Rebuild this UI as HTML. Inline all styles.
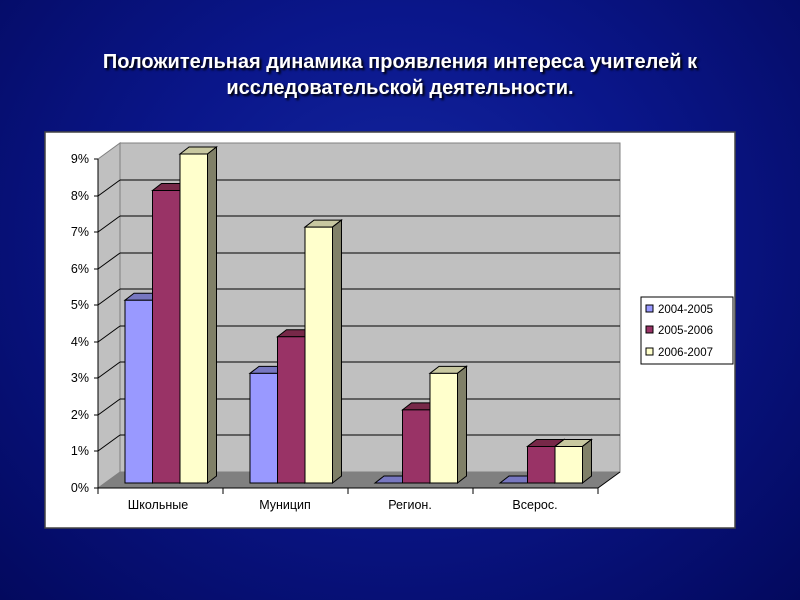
<!DOCTYPE html>
<html><head><meta charset="utf-8"><style>
body{margin:0;width:800px;height:600px;overflow:hidden;background:radial-gradient(ellipse at 50% 40%,#1426a0 0%,#0a168a 45%,#03095e 100%);font-family:"Liberation Sans",sans-serif}
.t{position:absolute;left:0;width:800px;text-align:center;color:#fff;font-weight:bold;font-size:20px;text-shadow:2px 2px 2px #000}
</style></head><body>
<div class="t" style="top:51px">Положительная динамика проявления интереса учителей к</div>
<div class="t" style="top:77px">исследовательской деятельности.</div>
<svg width="800" height="600" style="position:absolute;left:0;top:0" font-family="Liberation Sans, sans-serif">
<rect x="45" y="132" width="690" height="396" fill="#fff" stroke="#444" stroke-width="1.5"/>
<polygon points="98,159 120,143 120,472 98,488" fill="#c0c0c0" stroke="#808080"/>
<rect x="120" y="143" width="500" height="329" fill="#c0c0c0" stroke="#808080"/>
<polygon points="98,488 120,472 620,472 598,488" fill="#808080"/>
<g stroke="#000" stroke-width="1">
<line x1="120" y1="180" x2="620" y2="180"/><line x1="120" y1="216" x2="620" y2="216"/><line x1="120" y1="253" x2="620" y2="253"/><line x1="120" y1="289" x2="620" y2="289"/><line x1="120" y1="326" x2="620" y2="326"/><line x1="120" y1="362" x2="620" y2="362"/><line x1="120" y1="399" x2="620" y2="399"/><line x1="120" y1="435" x2="620" y2="435"/>
<line x1="98" y1="196" x2="120" y2="180"/><line x1="98" y1="232" x2="120" y2="216"/><line x1="98" y1="269" x2="120" y2="253"/><line x1="98" y1="305" x2="120" y2="289"/><line x1="98" y1="342" x2="120" y2="326"/><line x1="98" y1="378" x2="120" y2="362"/><line x1="98" y1="415" x2="120" y2="399"/><line x1="98" y1="451" x2="120" y2="435"/>
<line x1="98" y1="159" x2="98" y2="488"/><line x1="98" y1="488" x2="598" y2="488"/><line x1="598" y1="488" x2="620" y2="472"/>
<line x1="94" y1="159" x2="98" y2="159"/><line x1="94" y1="196" x2="98" y2="196"/><line x1="94" y1="232" x2="98" y2="232"/><line x1="94" y1="269" x2="98" y2="269"/><line x1="94" y1="305" x2="98" y2="305"/><line x1="94" y1="342" x2="98" y2="342"/><line x1="94" y1="378" x2="98" y2="378"/><line x1="94" y1="415" x2="98" y2="415"/><line x1="94" y1="451" x2="98" y2="451"/><line x1="94" y1="488" x2="98" y2="488"/>
<line x1="98" y1="488" x2="98" y2="494"/><line x1="223" y1="488" x2="223" y2="494"/><line x1="348" y1="488" x2="348" y2="494"/><line x1="473" y1="488" x2="473" y2="494"/><line x1="598" y1="488" x2="598" y2="494"/>
</g>
<g font-size="12.5" fill="#000" text-anchor="end">
<text x="89" y="163">9%</text><text x="89" y="200">8%</text><text x="89" y="236">7%</text><text x="89" y="273">6%</text><text x="89" y="309">5%</text><text x="89" y="346">4%</text><text x="89" y="382">3%</text><text x="89" y="419">2%</text><text x="89" y="455">1%</text><text x="89" y="492">0%</text>
</g>
<g font-size="12.5" fill="#000" text-anchor="middle">
<text x="158" y="509">Школьные</text><text x="285" y="509">Муницип</text><text x="410" y="509">Регион.</text><text x="535" y="509">Всерос.</text>
</g>
<g id="bars" stroke="#000" stroke-width="1"></g>
<rect x="641" y="297" width="92" height="67" fill="#fff" stroke="#000"/>
<rect x="646" y="305" width="7" height="7" fill="#9999ff" stroke="#000"/>
<rect x="646" y="326" width="7" height="7" fill="#993366" stroke="#000"/>
<rect x="646" y="348" width="7" height="7" fill="#ffffcc" stroke="#000"/>
<g font-size="11.5" fill="#000"><text x="658" y="313">2004-2005</text><text x="658" y="334">2005-2006</text><text x="658" y="356">2006-2007</text></g>
</svg>
<script>
var g=document.getElementById('bars'),ns='http://www.w3.org/2000/svg';
var cols=[['#9999ff','#6666b0','#7777c0'],['#993366','#66203f','#772848'],['#ffffcc','#808068','#c8c8a0']];
var data=[[5,8,9],[3,4,7],[0,2,3],[0,1,1]];
var s=36.56,b=483,dx=9,dy=-7,w=27.5;
function p(pts,f){var e=document.createElementNS(ns,'polygon');e.setAttribute('points',pts);e.setAttribute('fill',f);g.appendChild(e);}
data.forEach(function(d,i){d.forEach(function(v,j){var x=125+i*125+j*w,t=b-v*s,c=cols[j];
p(x+','+t+' '+(x+dx)+','+(t+dy)+' '+(x+w+dx)+','+(t+dy)+' '+(x+w)+','+t,c[2]);
if(v>0){p((x+w)+','+t+' '+(x+w+dx)+','+(t+dy)+' '+(x+w+dx)+','+(b+dy)+' '+(x+w)+','+b,c[1]);
p(x+','+t+' '+(x+w)+','+t+' '+(x+w)+','+b+' '+x+','+b,c[0]);}});});
</script>
</body></html>
